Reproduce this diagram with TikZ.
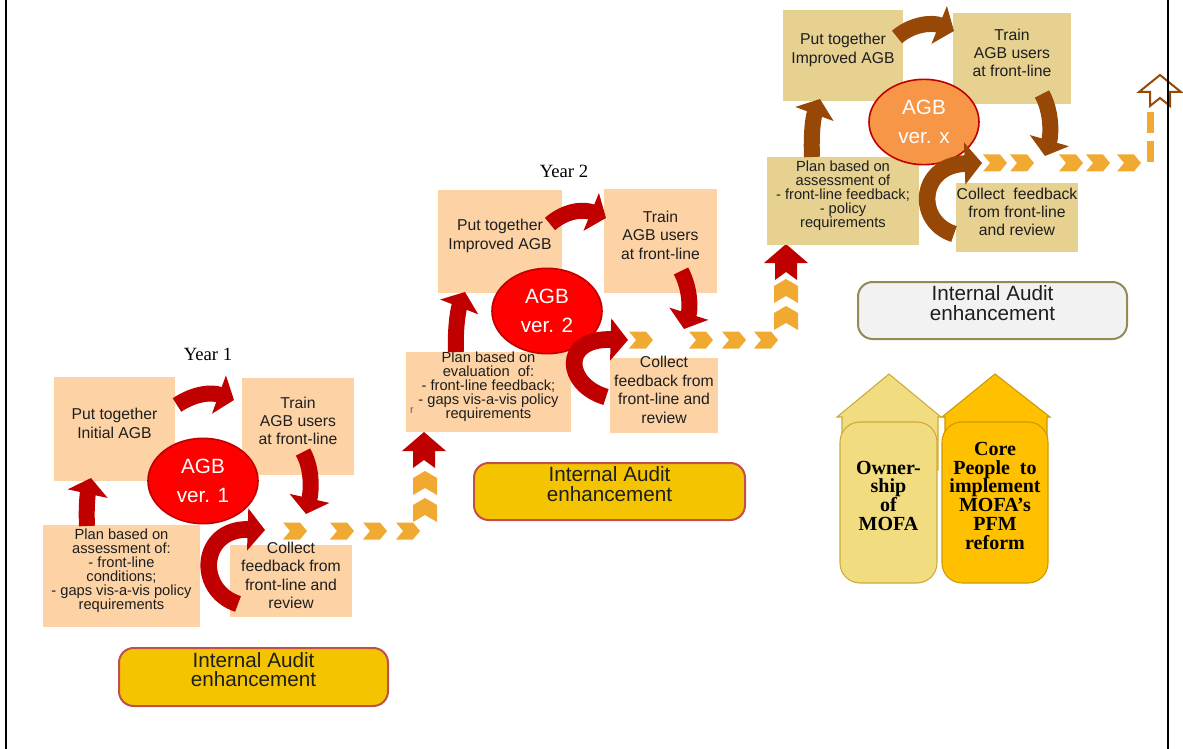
\documentclass[tikz,border=0pt]{standalone}
\usepackage{fontspec}
\setmainfont{Liberation Sans}
\newfontfamily\serifface{Liberation Serif}
\usetikzlibrary{arrows.meta,fit,shapes.geometric}

\definecolor{peach}{RGB}{253,211,165}
\definecolor{khaki}{RGB}{230,209,145}
\definecolor{cycred}{RGB}{192,0,0}
\definecolor{cycbrown}{RGB}{151,72,6}
\definecolor{agborange}{RGB}{247,150,70}
\definecolor{chevron}{RGB}{240,170,50}
\definecolor{iagold}{RGB}{245,196,0}
\definecolor{iaedge}{RGB}{192,80,77}
\definecolor{iagrey}{RGB}{242,242,242}
\definecolor{iaolive}{RGB}{148,138,84}
\definecolor{pillarlight}{RGB}{242,220,128}
\definecolor{pillarlightedge}{RGB}{205,170,60}
\definecolor{pillargold}{RGB}{255,192,0}
\definecolor{pillargoldedge}{RGB}{204,153,0}
\definecolor{ink}{RGB}{30,30,30}

\tikzset{
  stepbox/.style={inner sep=0pt, align=center, text=ink, font=\fontsize{11.8}{13.8}\selectfont},
  planbox/.style={stepbox, font=\fontsize{11}{10.5}\selectfont},
  agb/.style={ellipse, draw=cycred, line width=1.2pt, fill=red, text=white, inner sep=0pt,
    minimum width=82.5pt, minimum height=64pt, align=center, font=\fontsize{15.5}{22}\selectfont},
  cyc/.style={line width=12pt, -{Triangle[width=30pt,length=12pt]}},
  loopcyc/.style={line width=12.5pt, -{Triangle[width=31pt,length=13pt]}},
  iabox/.style={rounded corners=11pt, draw, line width=1.5pt, inner sep=0pt, align=center,
    text=ink, font=\fontsize{15.5}{14.5}\selectfont},
  pillar/.style={rounded corners=15pt, draw, line width=0.8pt, inner sep=0pt, align=center,
    text=black, font=\serifface\bfseries\fontsize{15}{14.2}\selectfont},
  yearlabel/.style={font=\serifface\fontsize{14}{14}\selectfont, inner sep=0pt},
  chevright/.pic={\fill[chevron] (-12,-8.5) -- (5,-8.5) -- (12,0) -- (5,8.5) -- (-12,8.5) -- (-5,0) -- cycle;},
  chevup/.pic={\fill[chevron] (-12,12) -- (-12,-5) -- (0,-12) -- (12,-5) -- (12,12) -- (0,5) -- cycle;},
  blockup/.pic={\fill[cycred] (0,-18) -- (22,1) -- (11,1) -- (11,18) -- (0,10) -- (-11,18) -- (-11,1) -- (-22,1) -- cycle;},
  hollowup/.pic={\filldraw[fill=white, draw=cycbrown, line width=1.5pt, line join=miter]
    (0,-16) -- (21,1) -- (10,1) -- (10,15) -- (0,7) -- (-10,15) -- (-10,1) -- (-21,1) -- cycle;}
}

\begin{document}
\begin{tikzpicture}[x=0.75pt,y=-0.75pt]
\useasboundingbox (0,0) rectangle (1183,749);

% ---------------- Year 1 cycle ----------------
\node[yearlabel] (year1) at (208,354) {Year 1};
\node[stepbox, fill=peach, fit={(54,377) (175,481)}] (put1) {Put together\\Initial AGB};
\node[stepbox, fill=peach, fit={(242,378) (354,475)}] (train1) {Train\\AGB users\\at front-line};
\node[planbox, fill=peach, fit={(43,525) (200,627)}] (plan1)
  {Plan based on\\assessment of:\\- front-line\\conditions;\\- gaps vis-a-vis policy\\requirements};
\node[stepbox, fill=peach, fit={(230,545) (352,617)}] (collect1) {Collect\\feedback from\\front-line and\\review};
\node[agb] (agb1) at (203,481) {AGB\\ver. 1};

\coordinate (put1-out) at (177,405);   \coordinate (train1-in) at (234,400);
\coordinate (train1-out) at (303,452); \coordinate (collect1-in) at (306,514);
\coordinate (plan1-out) at (87,526);   \coordinate (put1-in) at (91,478);
\coordinate (collect1-out) at (238,604); \coordinate (path1-in) at (265,530);
\draw[cyc, cycred] (put1-out) .. controls (195,393) and (212,392) .. (train1-in);
\draw[cyc, cycred] (train1-out) .. controls (313,470) and (311,492) .. (collect1-in);
\draw[cyc, cycred] (plan1-out) .. controls (86,505) and (88,492) .. (put1-in);
\draw[loopcyc, cycred] (collect1-out) .. controls (195,590) and (200,528) .. (path1-in);

\foreach \x in {295,342,375,408} \pic at (\x,531) {chevright};
\foreach \y in {510,483} \pic at (425,\y) {chevup};
\pic at (424,450) {blockup};

\node[iabox, fill=iagold, draw=iaedge, fit={(119,648) (388,706)}] (ia1) {Internal Audit\\enhancement};

% ---------------- Year 2 cycle ----------------
\node[yearlabel] (year2) at (564,171) {Year 2};
\node[stepbox, fill=peach, fit={(438,190) (562,293)}] (put2) {Put together\\Improved AGB};
\node[stepbox, fill=peach, fit={(604,189) (717,293)}] (train2) {Train\\AGB users\\at front-line};
\node[planbox, fill=peach, fit={(406,352) (571,432)}] (plan2)
  {Plan based on\\evaluation\ \ of:\\- front-line feedback;\\- gaps vis-a-vis policy\\requirements};
\node[font=\fontsize{8}{8}\selectfont, text=ink!70, inner sep=0pt] (mark2) at (412,411) {r};
\node[stepbox, fill=peach, fit={(610,358) (718,433)}] (collect2) {Collect\\feedback from\\front-line and\\review};
\node[agb] (agb2) at (547,311) {AGB\\ver. 2};

\coordinate (put2-out) at (550,224);   \coordinate (train2-in) at (606,218);
\coordinate (train2-out) at (681,271); \coordinate (collect2-in) at (684,329);
\coordinate (plan2-out) at (456,352);  \coordinate (put2-in) at (465,292);
\coordinate (collect2-out) at (606,397); \coordinate (path2-in) at (628,340);
\draw[cyc, cycred] (put2-out) .. controls (566,210) and (584,209) .. (train2-in);
\draw[cyc, cycred] (train2-out) .. controls (691,290) and (690,310) .. (collect2-in);
\draw[cyc, cycred] (plan2-out) .. controls (455,330) and (458,310) .. (put2-in);
\draw[loopcyc, cycred] (collect2-out) .. controls (565,385) and (560,338) .. (path2-in);

\foreach \x in {641,701,734,766} \pic at (\x,340) {chevright};
\foreach \y in {318,291} \pic at (786,\y) {chevup};
\pic at (786,262) {blockup};

\node[iabox, fill=iagold, draw=iaedge, fit={(474,463) (745,520)}] (ia2) {Internal Audit\\enhancement};

% ---------------- Year x cycle ----------------
\node[stepbox, fill=khaki, fit={(783,10) (903,101)}] (putx) {Put together\\Improved AGB};
\node[stepbox, fill=khaki, fit={(953,13) (1071,104)}] (trainx) {Train\\AGB users\\at front-line};
\node[planbox, fill=khaki, fit={(767,157) (919,245)}] (planx)
  {Plan based on\\assessment of\\- front-line feedback;\\- policy\\requirements};
\node[stepbox, fill=khaki, fit={(956,183) (1078,252)}] (collectx) {Collect\ \ feedback\\from front-line\\and review};
\node[agb, fill=agborange] (agbx) at (924,122) {AGB\\ver. x};

\coordinate (putx-out) at (897,37);    \coordinate (trainx-in) at (954,31);
\coordinate (trainx-out) at (1042,94); \coordinate (collectx-in) at (1045,156);
\coordinate (planx-out) at (812,157);  \coordinate (putx-in) at (820,99);
\coordinate (collectx-out) at (954,234); \coordinate (pathx-in) at (982,163);
\draw[cyc, cycbrown] (putx-out) .. controls (912,24) and (932,22) .. (trainx-in);
\draw[cyc, cycbrown] (trainx-out) .. controls (1052,112) and (1051,135) .. (collectx-in);
\draw[cyc, cycbrown] (planx-out) .. controls (811,135) and (813,118) .. (putx-in);
\draw[loopcyc, cycbrown] (collectx-out) .. controls (915,222) and (918,165) .. (pathx-in);

\foreach \x in {995,1022,1071,1098,1129} \pic at (\x,163) {chevright};
\fill[chevron] (1147,141) rectangle (1154,162);
\fill[chevron] (1147,112) rectangle (1154,133);
\pic at (1160,91) {hollowup};

\node[iabox, fill=iagrey, draw=iaolive, fit={(858,282) (1127,339)}] (ia3) {Internal Audit\\enhancement};

% ---------------- Pillars ----------------
\filldraw[fill=pillarlight, draw=pillarlightedge, line width=0.8pt]
  (837,417) -- (889,374) -- (941,417) -- (938,417) -- (938,470) -- (842,470) -- (842,417) -- cycle;
\node[pillar, fill=pillarlight, draw=pillarlightedge, fit={(840,422) (937,583)}] (ownership)
  {Owner-\\ship\\of\\MOFA};
\filldraw[fill=pillargold, draw=pillargoldedge, line width=0.8pt]
  (942,417) -- (995,374) -- (1050,417) -- (1047,417) -- (1047,470) -- (945,470) -- (945,417) -- cycle;
\node[pillar, fill=pillargold, draw=pillargoldedge, fit={(942,422) (1048,583)}] (corepeople)
  {Core\\People\ \ to\\implement\\MOFA’s\\PFM\\reform};

% ---------------- Frame lines ----------------
\draw[line width=1.6pt] (6,0) -- (6,749);
\draw[line width=1.6pt] (1168,0) -- (1168,749);
\end{tikzpicture}
\end{document}
